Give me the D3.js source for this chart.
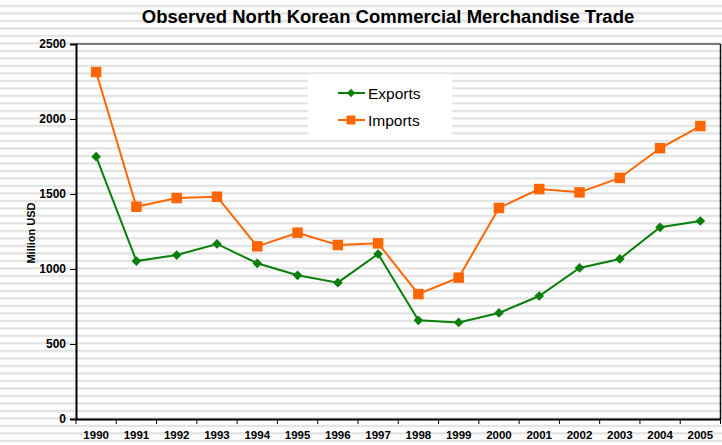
<!DOCTYPE html>
<html>
<head>
<meta charset="utf-8">
<script src="https://cdn.jsdelivr.net/npm/d3@7"></script>
<style>
  body { margin: 0; padding: 0; background: #fff; }
  svg { display: block; font-family: "Liberation Sans", Arial, sans-serif; }
</style>
</head>
<body>
<svg id="chart" width="722" height="445"></svg>
<script>
var years = ["1990", "1991", "1992", "1993", "1994", "1995", "1996", "1997",
	"1998", "1999", "2000", "2001", "2002", "2003", "2004", "2005"];
var exportsVals = [1749, 1053, 1093, 1167, 1038, 958, 909, 1100, 658, 644, 707, 820, 1007, 1067, 1278, 1320];
var importsVals = [2313, 1415, 1473, 1482, 1151, 1242, 1160, 1171, 833, 942, 1407, 1533, 1511, 1607, 1805, 1953];
var yTicks = [0, 500, 1000, 1500, 2000, 2500];

var margin = { top: 44, right: 1.5, bottom: 26, left: 76 };
var W = 722, H = 445;

var svg = d3.select('#chart');

// striped background
var pat = svg.append('defs').append('pattern')
	.attr('id', 'stripes')
	.attr('patternUnits', 'userSpaceOnUse')
	.attr('width', 8).attr('height', 7.5)
	.attr('y', 42.3);
pat.append('rect').attr('width', 8).attr('height', 7.5).attr('fill', '#fff');
pat.append('rect').attr('width', 8).attr('height', 2.2).attr('fill', '#e1e1e1');

svg.append('rect').attr('width', W).attr('height', H).attr('fill', 'url(#stripes)');

var x = d3.scaleBand().domain(years).range([margin.left, W - margin.right]);
var y = d3.scaleLinear().domain([0, 2500]).range([H - margin.bottom, margin.top]);

// plot frame top/right
svg.append('line')
	.attr('x1', margin.left).attr('x2', W - margin.right)
	.attr('y1', y(2500)).attr('y2', y(2500))
	.attr('stroke', '#555').attr('stroke-width', 1.5);
svg.append('line')
	.attr('x1', W - margin.right).attr('x2', W - margin.right)
	.attr('y1', y(2500)).attr('y2', y(0))
	.attr('stroke', '#111').attr('stroke-width', 1.5);

// y axis
var yAxis = svg.append('g')
	.attr('transform', `translate(${margin.left},0)`)
	.call(d3.axisLeft(y).tickValues(yTicks).tickFormat(d3.format('d')).tickSize(6).tickPadding(4));
yAxis.select('.domain').attr('stroke', '#000').attr('stroke-width', 2);
yAxis.selectAll('.tick line').attr('stroke', '#000');
yAxis.selectAll('text')
	.style('font-size', '12px').style('font-weight', 'bold').attr('fill', '#000');

// x axis, ticks on band edges
var xAxis = svg.append('g')
	.attr('transform', `translate(0,${y(0)})`)
	.call(d3.axisBottom(x).tickSize(0).tickPadding(12));
xAxis.select('.domain').attr('stroke', '#000').attr('stroke-width', 2);
xAxis.selectAll('text')
	.style('font-size', '11.5px').style('font-weight', 'bold').attr('fill', '#000');
xAxis.selectAll('.edge')
	.data(years.concat(['end']))
	.enter()
	.append('line')
	.attr('class', 'edge')
	.attr('x1', (d, i) => i < years.length ? x(d) : x.range()[1])
	.attr('x2', (d, i) => i < years.length ? x(d) : x.range()[1])
	.attr('y1', 0).attr('y2', 5)
	.attr('stroke', '#000');

// titles
svg.append('text')
	.attr('x', 388).attr('y', 23)
	.attr('text-anchor', 'middle')
	.style('font-size', '18.5px').style('font-weight', 'bold')
	.text('Observed North Korean Commercial Merchandise Trade');

svg.append('text')
	.attr('transform', 'translate(35,233) rotate(-90)')
	.attr('text-anchor', 'middle')
	.style('font-size', '11px').style('font-weight', 'bold')
	.text('Million USD');

var cx = d => x(d) + x.bandwidth() / 2;

function drawSeries(vals, color, shape, size) {
	var line = d3.line().x((d, i) => cx(years[i])).y(d => y(d));
	svg.append('path')
		.datum(vals)
		.attr('d', line)
		.attr('fill', 'none')
		.attr('stroke', color)
		.attr('stroke-width', 2);
	svg.append('g').selectAll('path')
		.data(vals)
		.enter()
		.append('path')
		.attr('d', d3.symbol().type(shape).size(size))
		.attr('transform', (d, i) => `translate(${cx(years[i])},${y(d)})`)
		.attr('fill', color);
}

var green = '#0a800a', orange = '#ff6600';
drawSeries(exportsVals, green, d3.symbolDiamond2, 60);
drawSeries(importsVals, orange, d3.symbolSquare, 110);

// legend
var legend = svg.append('g').attr('transform', 'translate(308,74)');
legend.append('rect').attr('width', 144).attr('height', 61).attr('fill', '#fff');
var items = [
	{ name: 'Exports', color: green, shape: d3.symbolDiamond2, size: 45 },
	{ name: 'Imports', color: orange, shape: d3.symbolSquare, size: 80 }
];
items.forEach(function (it, i) {
	var g = legend.append('g').attr('transform', `translate(0,${19 + i * 27})`);
	g.append('line').attr('x1', 30).attr('x2', 57)
		.attr('stroke', it.color).attr('stroke-width', 2);
	g.append('path').attr('d', d3.symbol().type(it.shape).size(it.size))
		.attr('transform', 'translate(43,0)').attr('fill', it.color);
	g.append('text').attr('x', 60).attr('y', 5.5)
		.style('font-size', '15.5px').text(it.name);
});
</script>
</body>
</html>
